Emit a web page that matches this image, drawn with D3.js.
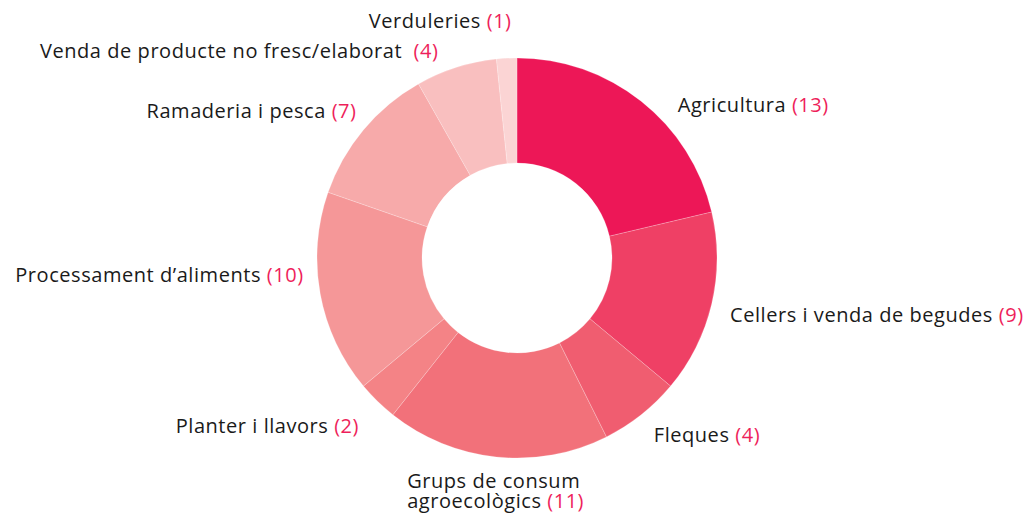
<!DOCTYPE html>
<html><head><meta charset="utf-8">
<script src="https://cdn.jsdelivr.net/npm/d3@7"></script>
<style>
html,body{margin:0;padding:0;background:#fff;}
svg{display:block;}
text{font-family:"Open Sans","Noto Sans",sans-serif;font-size:20px;letter-spacing:0.55px;fill:#1a1a1a;white-space:pre;}
tspan.num{fill:#ee1f5b;}
</style></head>
<body>
<svg id="chart" width="1028" height="515"></svg>
<script>
const categories = ["Agricultura","Cellers i venda de begudes","Fleques","Grups de consum agroecològics","Planter i llavors","Processament d’aliments","Ramaderia i pesca","Venda de producte no fresc/elaborat ","Verduleries"];
const values = [13, 9, 4, 11, 2, 10, 7, 4, 1];
const colors = ["#ed1757","#ef4065","#f05d70","#f2717a","#f48386","#f59798","#f7aaaa","#f9bfbf","#fbd4d4"];

// layout-only label nudges (px) relative to the label arc centroid
const labelNudge = {
  "Agricultura":[23,21], "Cellers i venda de begudes":[-3,6], "Fleques":[-1,3],
  "Grups de consum agroecològics":[-87,2.5], "Planter i llavors":[-3,9],
  "Processament d’aliments":[5,-23], "Ramaderia i pesca":[10,-5],
  "Venda de producte no fresc/elaborat ":[-11,4], "Verduleries":[6,-15]
};
const multiLine = {"Grups de consum agroecològics":["Grups de consum","agroecològics"]};

const W=1028,H=515,cx=517,cy=258,R=200,r0=95,RL=222;
const svg=d3.select("#chart");
const data=categories.map((c,i)=>({name:c,value:values[i],color:colors[i]}));
const pie=d3.pie().value(d=>d.value).sort(null);
const arc=d3.arc().innerRadius(r0).outerRadius(R);
const g=svg.append("g").attr("transform",`translate(${cx},${cy})`);
const arcs=pie(data);
g.selectAll("path").data(arcs).join("path")
  .attr("d",arc).attr("fill",d=>d.data.color)
  .attr("stroke","#fff").attr("stroke-opacity",0.35).attr("stroke-width",0.6);

const lg=svg.append("g").attr("transform",`translate(${cx},${cy})`);
arcs.forEach(a=>{
  const mid=(a.startAngle+a.endAngle)/2;
  const nx=RL*Math.sin(mid), ny=-RL*Math.cos(mid)+7;
  const nd=labelNudge[a.data.name]||[0,0];
  const isMulti=!!multiLine[a.data.name];
  const anchor=isMulti?"start":(Math.sin(mid)>=0?"start":"end");
  const t=lg.append("text").attr("text-anchor",anchor)
    .attr("x",nx+nd[0]).attr("y",ny+nd[1]);
  if(isMulti){
    const lines=multiLine[a.data.name];
    lines.forEach((ln,i)=>{
      t.append("tspan").attr("x",nx+nd[0]).attr("dy",i===0?0:20).text(ln);
      if(i===lines.length-1){ t.append("tspan").attr("class","num").text(" ("+a.data.value+")"); }
    });
  } else {
    t.append("tspan").text(a.data.name+" ");
    t.append("tspan").attr("class","num").text("("+a.data.value+")");
  }
});
</script>
</body></html>
